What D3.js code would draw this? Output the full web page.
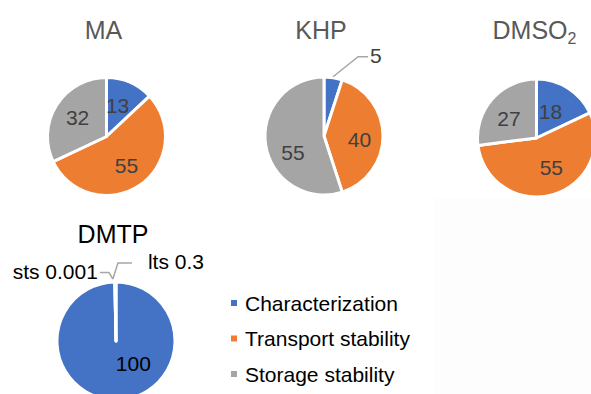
<!DOCTYPE html>
<html>
<head>
<meta charset="utf-8">
<script src="https://cdn.jsdelivr.net/npm/d3@7"></script>
<style>
  html, body { margin: 0; padding: 0; background: #fff; }
  svg { display: block; font-family: "Liberation Sans", Arial, sans-serif; }
</style>
</head>
<body>
<svg id="chart" width="591" height="394"></svg>
<script>
// Share of each activity per substance (percent)
const categories = ["Characterization", "Transport stability", "Storage stability"];
const maValues = [13, 55, 32];
const khpValues = [5, 40, 55];
const dmso2Values = [18, 55, 27];
const dmtpValues = [100, 0.001, 0.3];
const dmtpLabels = ["100", "sts 0.001", "lts 0.3"];
const colors = ["#4472C4", "#ED7D31", "#A5A5A5"];

// Layout of the four pies
const pies = [
  { title: "MA", values: maValues, cx: 106.5, cy: 136.5, titleColor: "#595959",
    labels: maValues.map(String), nudge: [[-3, 1], [0, 0], [1, 0]] },
  { title: "KHP", values: khpValues, cx: 324, cy: 136, titleColor: "#595959",
    labels: khpValues.map(String), nudge: [[0, 0], [0, 3], [4, 11]], outside: [0] },
  { title: "DMSO", sub: "2", values: dmso2Values, cx: 536.5, cy: 138, titleColor: "#595959",
    labels: dmso2Values.map(String), nudge: [[-5, 3], [5, -5], [-1, 4]] },
  { title: "DMTP", values: dmtpValues, cx: 116, cy: 341, titleColor: "#000",
    labels: dmtpLabels, nudge: [[17, -13], [0, 0], [0, 0]], outside: [1, 2], titleY: 243 }
];

const R = 59;
const LABEL_SIZE = 21;
const svg = d3.select("#chart");

// faint background panel at lower right
svg.append("rect").attr("x", 435).attr("y", 198).attr("width", 156).attr("height", 196)
  .attr("fill", "#fdfdfd");

const pie = d3.pie().sort(null).value(d => d);
const arc = d3.arc().innerRadius(0).outerRadius(R);
const labelArc = d3.arc().innerRadius(R * 0.6).outerRadius(R * 0.6);
const color = d3.scaleOrdinal().domain(d3.range(categories.length)).range(colors);

pies.forEach(p => {
  const g = svg.append("g").attr("transform", `translate(${p.cx},${p.cy})`);
  const arcs = pie(p.values);

  g.selectAll("path.slice").data(arcs).join("path")
    .attr("class", "slice")
    .attr("d", arc)
    .attr("fill", (d, i) => color(i))
    .attr("stroke", "#fff")
    .attr("stroke-width", 3)
    .attr("stroke-linejoin", "round");

  // title
  const t = svg.append("text")
    .attr("x", p.cx - (p.sub ? 2 : 3))
    .attr("y", p.titleY || 39)
    .attr("text-anchor", "middle")
    .attr("font-size", 25)
    .attr("fill", p.titleColor)
    .text(p.title);
  if (p.sub) {
    t.append("tspan").attr("font-size", 16).attr("dy", 5).text(p.sub);
  }

  const outside = p.outside || [];
  arcs.forEach((d, i) => {
    if (outside.includes(i)) return;
    const [x, y] = labelArc.centroid(d);
    g.append("text")
      .attr("x", x + p.nudge[i][0])
      .attr("y", y + p.nudge[i][1])
      .attr("dy", "0.36em")
      .attr("text-anchor", "middle")
      .attr("font-size", LABEL_SIZE)
      .attr("fill", p.title === "DMTP" ? "#000" : "#404040")
      .text(p.labels[i]);
  });

  // leader-lined labels for small slices
  if (p.title === "KHP") {
    const d = arcs[0];
    const a = (d.startAngle + d.endAngle) / 2;
    const ax = Math.sin(a) * (R - 1), ay = -Math.cos(a) * (R - 1) - 2;
    g.append("polyline")
      .attr("points", [[ax, ay], [ax + 25, ay - 20], [ax + 35, ay - 20]].join(" "))
      .attr("fill", "none").attr("stroke", "#A6A6A6").attr("stroke-width", 1.5);
    g.append("text").attr("x", ax + 37).attr("y", ay - 21).attr("dy", "0.36em")
      .attr("font-size", LABEL_SIZE).attr("fill", "#404040").text(p.labels[0]);
  }
  if (p.title === "DMTP") {
    const d = arcs[2];
    const a = (d.startAngle + d.endAngle) / 2;
    const ax = Math.sin(a) * (R + 3) - 2.5, ay = -Math.cos(a) * (R + 3);
    g.append("polyline")
      .attr("points", [[ax - 13, ay - 6.5], [ax - 4, ay - 6.5], [ax, ay]].join(" "))
      .attr("fill", "none").attr("stroke", "#A6A6A6").attr("stroke-width", 1.5);
    g.append("polyline")
      .attr("points", [[ax, ay], [ax + 5, ay - 16], [ax + 19, ay - 16]].join(" "))
      .attr("fill", "none").attr("stroke", "#A6A6A6").attr("stroke-width", 1.5);
    g.append("text").attr("x", ax - 15).attr("y", ay - 8).attr("dy", "0.36em")
      .attr("text-anchor", "end").attr("font-size", LABEL_SIZE).attr("fill", "#000").text(p.labels[1]);
    g.append("text").attr("x", ax + 35).attr("y", ay - 18).attr("dy", "0.36em")
      .attr("font-size", LABEL_SIZE).attr("fill", "#000").text(p.labels[2]);
  }
});

// legend
const legendY = d3.scalePoint().domain(categories).range([303, 374]);
const legend = svg.append("g");
categories.forEach((c, i) => {
  const y = legendY(c);
  legend.append("rect").attr("x", 231).attr("y", y - 3).attr("width", 6).attr("height", 6)
    .attr("fill", color(i));
  legend.append("text").attr("x", 245).attr("y", y).attr("dy", "0.36em")
    .attr("font-size", LABEL_SIZE).attr("fill", "#000").text(c);
});
</script>
</body>
</html>
